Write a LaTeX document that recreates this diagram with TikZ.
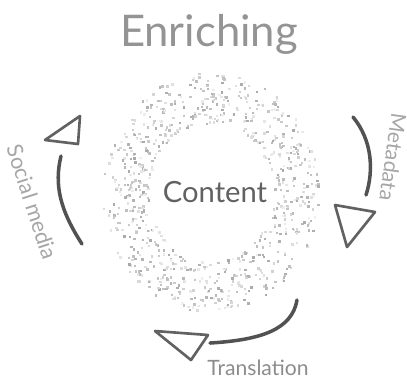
\documentclass[tikz,border=0pt]{standalone}
\usepackage{fontspec}
\setmainfont{Lato}
\usepackage{tikz}

\begin{document}
\begin{tikzpicture}[x=0.01cm,y=-0.01cm,line cap=round,line join=round]
  \tikzset{shaft/.style={draw=black!68,line width=1pt},
           tip/.style={draw=black!62,line width=0.75pt},
           lbl/.style={text=black!35,inner sep=0pt}}
  \useasboundingbox (0,0) rectangle (407,378);
  % speckled ring
  \pgfmathsetseed{11}
  \foreach \i in {1,...,800}{
    \pgfmathsetmacro{\ang}{360*rnd}
    \pgfmathsetmacro{\rad}{0.6+0.44*rnd}
    \pgfmathsetmacro{\shade}{6+28*rnd}
    \fill[black!\shade] ({210+104*\rad*cos(\ang)},{192+116*\rad*sin(\ang)}) rectangle ++(2.4,2.4);
  }
  \node[lbl,text=black!42,font=\fontsize{12.4}{14}\selectfont] (title) at (209,34) {Enriching};
  \node[lbl,text=black!62,font=\fontsize{8.3}{10}\selectfont] (content) at (215,192) {Content};
  \node[lbl,font=\fontsize{6.2}{8}\selectfont,rotate=-72] (social) at (32,202) {Social media};
  \node[lbl,font=\fontsize{6}{8}\selectfont,rotate=-98] (meta) at (393,157) {Metadata};
  \node[lbl,text=black!45,font=\fontsize{6}{8}\selectfont] (trans) at (258,368) {Translation};
  % arrows
  \coordinate (l0) at (82,244); \coordinate (l1) at (61,156);
  \draw[shaft] (l0) .. controls (60,210) and (54,185) .. (l1);
  \draw[tip] (45,140) -- (80,116) -- (78,144) -- cycle;
  \coordinate (r0) at (353,117); \coordinate (r1) at (366,195);
  \draw[shaft] (r0) .. controls (372,140) and (374,170) .. (r1);
  \draw[tip] (335,205) -- (375,212) -- (347,247) -- cycle;
  \coordinate (b0) at (297,300); \coordinate (b1) at (210,343);
  \draw[shaft] (b0) .. controls (292,330) and (260,340) .. (b1);
  \draw[tip] (155,331) -- (208,335) -- (191,360) -- cycle;
\end{tikzpicture}
\end{document}
